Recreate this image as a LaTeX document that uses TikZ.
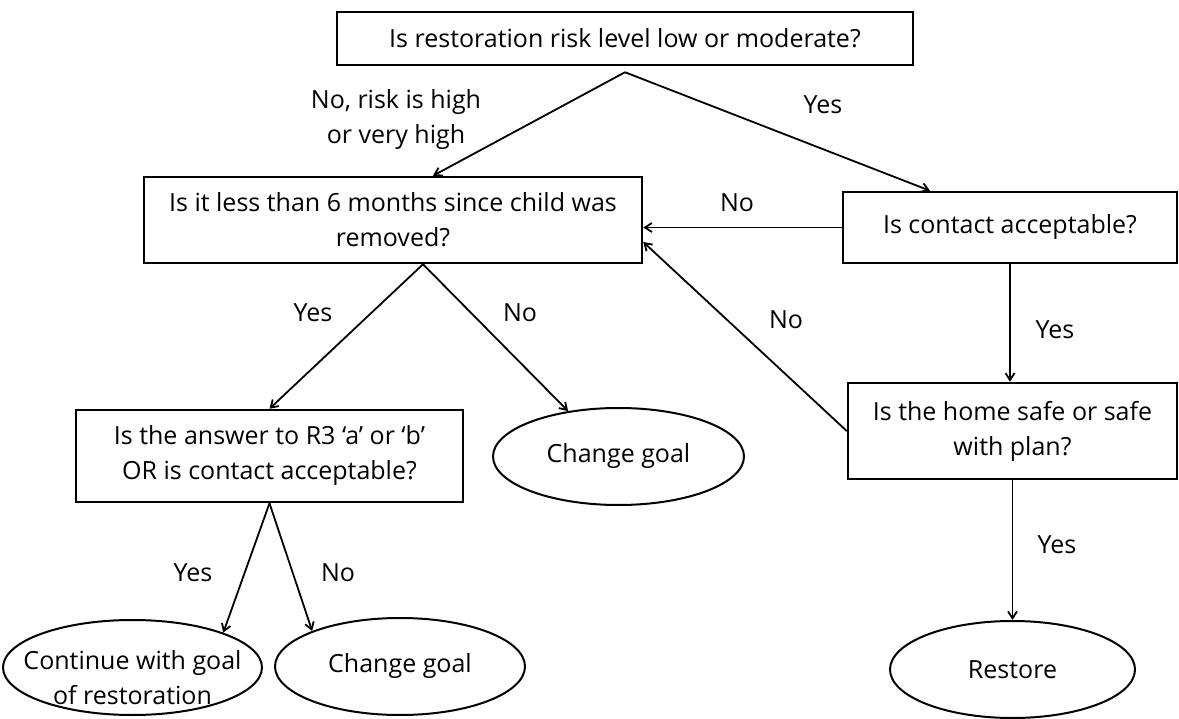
\documentclass[tikz,border=0pt]{standalone}
\usepackage{fontspec}
\setmainfont{Open Sans}
\usetikzlibrary{
    shapes.geometric,
    arrows.meta,
    calc,
}
\tikzset{
    questionnode/.style={
            draw,
            line width=2.5,
            inner sep=0,
            align=center,
            font=\fontsize{25}{35}\selectfont,
        }
}
\tikzset{
    outcomenode/.style={
            draw,
            ellipse,
            line width=2,
            inner sep=0,
            align=center,
            font=\fontsize{25}{35}\selectfont,
        }
}
\tikzset{
    answernode/.style={
            inner sep=0,
            align=center,
            font=\fontsize{25}{35}\selectfont,
        }
}
\tikzset{
    arrowline/.style={
            -{Straight Barb[length=7pt,width=9pt]},
            line width=1.8,
        }
}

\begin{document}
\begin{tikzpicture}[x=1pt, y=-1pt]
    \useasboundingbox (0,0) rectangle (1179,719);

    % questions
    \node[
        questionnode,
        minimum width=576,
        minimum height=53,
    ] (R) at (625,38.5) {Is restoration risk level low or moderate?};
    \node[
        questionnode,
        minimum width=498,
        minimum height=86,
    ] (M) at (393,220) {Is it less than 6 months since child was\\removed?};
    \node[
        questionnode,
        minimum width=334,
        minimum height=71,
    ] (C) at (1010,227.5) {Is contact acceptable?};
    \node[
        questionnode,
        minimum width=329,
        minimum height=96,
    ] (H) at (1012.5,431) {Is the home safe or safe\\with plan?};
    \node[
        questionnode,
        minimum width=387,
        minimum height=92,
    ] (Q) at (269.5,456) {Is the answer to R3 `a' or `b'\\OR is contact acceptable?};

    % outcomes
    \node[
        outcomenode,
        minimum width=251,
        minimum height=97,
    ] (G1) at (618.5,456.5) {Change goal};
    \node[
        outcomenode,
        minimum width=259,
        minimum height=95,
    ] (K) at (132.5,667.5) {\makebox[0pt]{\raisebox{-19pt}[0pt][0pt]{\begin{tabular}{@{}c@{}}Continue with goal\\of restoration\end{tabular}}}};
    \node[
        outcomenode,
        minimum width=250,
        minimum height=97,
    ] (G2) at (400,666.5) {Change goal};
    \node[
        outcomenode,
        minimum width=245,
        minimum height=97,
    ] (S) at (1012.5,669.5) {Restore};

    % risk level -> months / contact
    \coordinate (RP) at ($(R.south)+(0,6)$);
    \draw[arrowline] (RP) -- ($(M.north)+(40,0)$);
    \draw[arrowline] (RP) -- ($(C.north)+(-80,0)$);

    % contact -> months / home
    \draw[arrowline] (C.west) -- (C.west -| M.east);
    \draw[arrowline] (C.south) -- (C.south |- H.north);

    % home -> months / restore
    \draw[arrowline] (H.west) -- ($(M.east)+(0,22)$);
    \draw[arrowline] (H.south) -- (S.north);

    % months -> answer / change goal
    \coordinate (MP) at ($(M.south)+(30,0)$);
    \draw[arrowline] (MP) -- (Q.north);
    \draw[arrowline] (MP) -- (G1.138);

    % answer -> continue / change goal
    \draw[arrowline] (Q.south) -- (K.21);
    \draw[arrowline] (Q.south) -- (G2.158);

    % labels
    \node[answernode] (nR) at (396,120) {No, risk is high\\or very high};
    \node[answernode] (yR) at (823,105) {Yes};
    \node[answernode] (nC) at (737,203) {No};
    \node[answernode] (yC) at (1055,330) {Yes};
    \node[answernode] (nH) at (786,320) {No};
    \node[answernode] (yH) at (1057,545) {Yes};
    \node[answernode] (yM) at (313,313) {Yes};
    \node[answernode] (nM) at (520,313) {No};
    \node[answernode] (yQ) at (193,573) {Yes};
    \node[answernode] (nQ) at (338,573) {No};
\end{tikzpicture}
\end{document}
